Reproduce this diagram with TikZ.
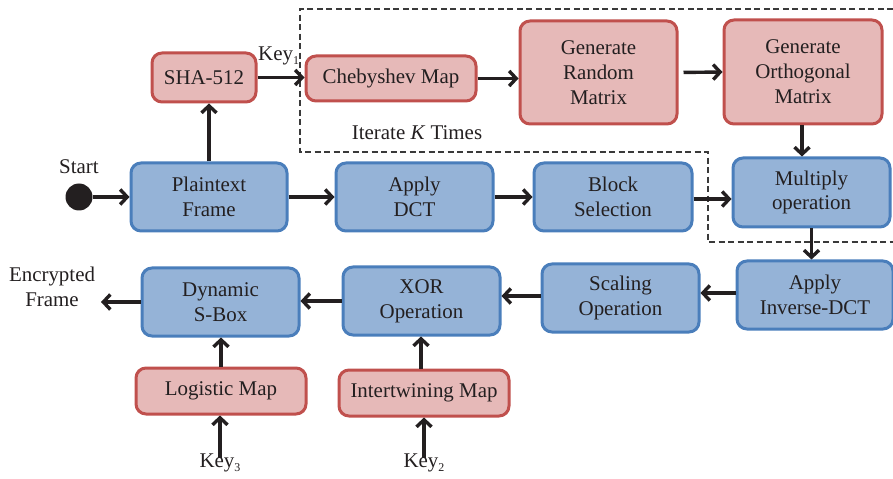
\documentclass[tikz,border=0pt]{standalone}
\usepackage{fontspec}
\setmainfont{Liberation Serif}
\usetikzlibrary{arrows.meta}
\definecolor{bluefill}{HTML}{95B3D7}
\definecolor{blueline}{HTML}{4A7EBB}
\definecolor{redfill}{HTML}{E6B9B8}
\definecolor{redline}{HTML}{C0504D}
\definecolor{ink}{HTML}{231F20}
\definecolor{dashgray}{HTML}{3A3A3A}
\newcommand{\keysub}[1]{Key\raisebox{-0.45ex}{\fontsize{12}{12}\selectfont #1}}
\begin{document}
\begin{tikzpicture}[x=1bp, y=-1bp,
  txt/.style={font=\fontsize{21}{25}\selectfont, text=ink, align=center, inner sep=0},
  box/.style={txt, rounded corners=10bp, line width=3bp},
  bluebox/.style={box, draw=blueline, fill=bluefill},
  redbox/.style={box, draw=redline, fill=redfill},
  flow/.style={line width=3.4bp, draw=ink, -{Straight Barb[length=7bp,width=15bp]}},
  loopline/.style={line width=1.3bp, draw=dashgray, dash pattern=on 6bp off 3.5bp}
]
\useasboundingbox (0,0) rectangle (893,479);

% iteration region
\draw[loopline] (893,9) -- (300,9) -- (300,152) -- (708,152) -- (708,242) -- (893,242);

% key generation (red)
\node[redbox, minimum width=104bp, minimum height=49bp] (sha) at (204,77.5) {SHA-512};
\node[redbox, minimum width=170bp, minimum height=45bp] (cheb) at (391,78.5) {Chebyshev Map};
\node[redbox, minimum width=157bp, minimum height=103bp] (grm) at (598.5,72.5) {Generate\\Random\\Matrix};
\node[redbox, minimum width=158bp, minimum height=104bp] (gom) at (803,72) {Generate\\Orthogonal\\Matrix};
\node[redbox, minimum width=170bp, minimum height=46bp] (logi) at (221,391) {Logistic Map};
\node[redbox, minimum width=170bp, minimum height=46bp] (intw) at (424,393) {Intertwining Map};

% frame processing (blue)
\node[bluebox, minimum width=156bp, minimum height=68bp] (pf) at (209,197) {Plaintext\\Frame};
\node[bluebox, minimum width=157bp, minimum height=68bp] (dct) at (414.5,197) {Apply\\DCT};
\node[bluebox, minimum width=158bp, minimum height=68bp] (blk) at (613,197) {Block\\Selection};
\node[bluebox, minimum width=157bp, minimum height=69bp] (mul) at (811.5,192.5) {Multiply\\operation};
\node[bluebox, minimum width=156bp, minimum height=68bp] (idct) at (815,295) {Apply\\Inverse-DCT};
\node[bluebox, minimum width=157bp, minimum height=68bp] (scl) at (620.5,298) {Scaling\\Operation};
\node[bluebox, minimum width=157bp, minimum height=68bp] (xor) at (421.5,301) {XOR\\Operation};
\node[bluebox, minimum width=157bp, minimum height=68bp] (sbox) at (220.5,302) {Dynamic\\S-Box};

% start and labels
\node[circle, fill=ink, minimum size=27bp, inner sep=0] (start) at (79,197) {};
\node[txt] (startlbl) at (79,167) {Start};
\node[txt] (enc) at (52,287) {Encrypted\\Frame};
\node[txt] (iter) at (417,133) {Iterate \textit{K} Times};
\node[txt, anchor=west] (k1) at (258,56) {\keysub{1}};
\node[txt] (k3) at (220,463) {\keysub{3}};
\node[txt] (k2) at (424,463) {\keysub{2}};
\coordinate (out) at (101,302);

% connectors
\draw[flow] (start) -- (pf.west);
\draw[flow] (pf.north) -- (pf.north |- sha.south);
\draw[flow] (sha.east) -- (sha.east -| cheb.west);
\draw[flow] (cheb.east) -- (cheb.east -| grm.west);
\draw[flow, shorten <=5bp] (grm.east) -- (gom.west);
\draw[flow] ([xshift=-1bp]gom.south) -- ([xshift=-1bp]gom.south |- mul.north);
\draw[flow] (pf.east) -- (dct.west);
\draw[flow] (dct.east) -- (blk.west);
\draw[flow] ([yshift=-2bp]blk.east) -- ([yshift=-2bp]blk.east -| mul.west);
\draw[flow] (mul.south) -- (mul.south |- idct.north);
\draw[flow] ([yshift=2bp]idct.west) -- ([yshift=2bp]idct.west -| scl.east);
\draw[flow] ([yshift=2bp]scl.west) -- ([yshift=2bp]scl.west -| xor.east);
\draw[flow] (xor.west) -- (xor.west -| sbox.east);
\draw[flow] (sbox.west) -- (out);
\draw[flow] (logi.north) -- (logi.north |- sbox.south);
\draw[flow] ([xshift=-3bp]intw.north) -- ([xshift=-3bp]intw.north |- xor.south);
\draw[flow] ([yshift=-4bp]k3.north) -- (k3.north |- logi.south);
\draw[flow] ([yshift=-4bp]k2.north) -- (k2.north |- intw.south);
\end{tikzpicture}
\end{document}
